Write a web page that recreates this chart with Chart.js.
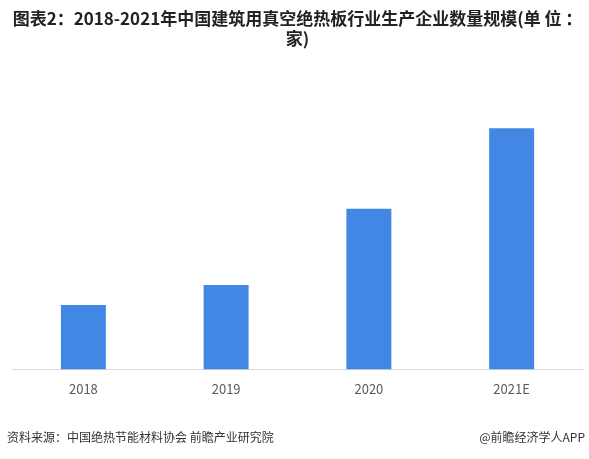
<!DOCTYPE html>
<html>
<head>
<meta charset="utf-8">
<script src="https://cdn.jsdelivr.net/npm/chart.js@4/dist/chart.umd.min.js"></script>
<style>
    body { margin: 0; background: #fff; }
    #wrap { position: relative; width: 589px; height: 459px; }
    .note {
        position: absolute; top: 428px;
        font: 12px "Noto Sans CJK SC", sans-serif; color: #333;
    }
</style>
</head>
<body>
<div id="wrap">
    <canvas id="chart" width="589" height="459"></canvas>
    <div class="note" style="left:7px">资料来源：中国绝热节能材料协会 前瞻产业研究院</div>
    <div class="note" style="right:4px">@前瞻经济学人APP</div>
</div>
<script>
// 데이터
const categories = ['2018', '2019', '2020', '2021E'];
const companyCounts = [16, 21, 40, 60];
const titleLines = ['图表2：2018-2021年中国建筑用真空绝热板行业生产企业数量规模(单 位 ：', '家)'];

const ctx = document.getElementById('chart').getContext('2d');
new Chart(ctx, {
    type: 'bar',
    data: {
        labels: categories,
        datasets: [{
            data: companyCounts,
            backgroundColor: '#4287e3',
            categoryPercentage: 1,
            barPercentage: 0.315
        }]
    },
    options: {
        responsive: false,
        animation: false,
        layout: { padding: { left: 12, right: 6, top: 0, bottom: 58 } },
        plugins: {
            legend: { display: false },
            tooltip: { enabled: false },
            title: {
                display: true,
                text: titleLines,
                color: '#222',
                font: { family: '"Noto Sans CJK SC", sans-serif', size: 17, weight: 'bold', lineHeight: 1.15 },
                padding: { top: 9, bottom: 32 }
            }
        },
        scales: {
            x: {
                grid: { display: false },
                border: { display: true, color: '#d9d9d9' },
                ticks: {
                    color: '#595959', padding: 4,
                    font: { family: '"Noto Sans CJK SC", sans-serif', size: 13 }
                }
            },
            y: { display: false, min: 0, max: 72 }
        }
    }
});
</script>
</body>
</html>
